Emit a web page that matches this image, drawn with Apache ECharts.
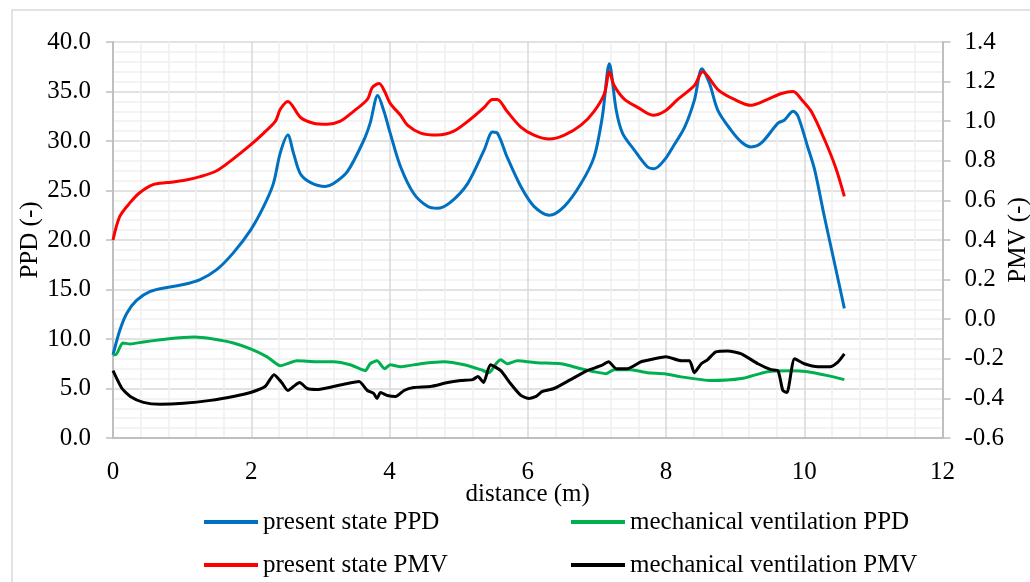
<!DOCTYPE html>
<html>
<head>
<meta charset="utf-8">
<script src="https://cdn.jsdelivr.net/npm/echarts@6/dist/echarts.min.js"></script>
<style>
  html, body { margin: 0; padding: 0; background: #ffffff; }
  #chart { width: 1030px; height: 582px; }
</style>
</head>
<body>
<div id="chart"></div>
<script>
// Thermal comfort along the room: PPD (left axis) and PMV (right axis)
const seriesNames = [
  'present state PPD',
  'mechanical ventilation PPD',
  'present state PMV',
  'mechanical ventilation PMV'
];

// present state PPD (%)
const presentPPDx = [0, 0.1, 0.2, 0.34, 0.54, 0.78, 1.02, 1.26, 1.5, 1.74, 1.99, 2.18, 2.32, 2.42, 2.53, 2.61, 2.71, 2.86, 3.07, 3.19, 3.39, 3.63, 3.72, 3.83, 3.92, 4.01, 4.16, 4.35, 4.55, 4.69, 4.88, 5.13, 5.37, 5.49, 5.56, 5.7, 5.9, 6.09, 6.31, 6.53, 6.77, 6.96, 7.08, 7.18, 7.28, 7.37, 7.54, 7.73, 7.83, 7.98, 8.1, 8.27, 8.41, 8.52, 8.63, 8.75, 8.94, 9.09, 9.23, 9.38, 9.62, 9.71, 9.84, 9.91, 10.05, 10.15, 10.29, 10.44, 10.58];
const presentPPD = [8.4, 10.9, 12.6, 13.9, 14.8, 15.2, 15.5, 16.0, 17.0, 18.7, 21.0, 23.4, 25.7, 28.8, 30.6, 28.8, 26.7, 25.8, 25.4, 25.7, 26.9, 30.1, 31.8, 34.6, 33.0, 30.8, 27.4, 24.7, 23.4, 23.2, 23.8, 25.7, 29.1, 30.9, 30.8, 28.4, 25.4, 23.4, 22.5, 23.4, 25.7, 28.4, 32.5, 37.8, 33.1, 30.8, 29.1, 27.4, 27.2, 28.1, 29.4, 31.4, 34.1, 37.3, 35.8, 33.1, 31.1, 29.9, 29.4, 29.8, 31.8, 32.1, 33.0, 32.5, 29.4, 27.1, 22.4, 17.6, 13.1];

// mechanical ventilation PPD (%)
const mechPPDx = [0, 0.04, 0.14, 0.25, 0.44, 0.78, 1.17, 1.45, 1.74, 1.99, 2.23, 2.42, 2.66, 2.95, 3.19, 3.43, 3.65, 3.72, 3.82, 3.93, 4.01, 4.16, 4.45, 4.79, 5.08, 5.32, 5.44, 5.54, 5.61, 5.7, 5.85, 6.14, 6.48, 6.77, 6.96, 7.13, 7.25, 7.49, 7.73, 7.98, 8.2, 8.65, 9.09, 9.47, 9.81, 10.05, 10.34, 10.58];
const mechPPD = [8.4, 8.4, 9.6, 9.5, 9.7, 10.0, 10.2, 10.0, 9.6, 9.0, 8.2, 7.3, 7.8, 7.7, 7.7, 7.4, 6.8, 7.5, 7.8, 7.0, 7.4, 7.2, 7.5, 7.7, 7.4, 6.9, 6.6, 7.5, 7.9, 7.5, 7.8, 7.6, 7.5, 7.0, 6.7, 6.5, 6.9, 6.9, 6.6, 6.5, 6.2, 5.8, 6.0, 6.7, 6.8, 6.7, 6.3, 5.9];

// present state PMV (-)
const presentPMVx = [0, 0.1, 0.25, 0.39, 0.58, 0.78, 1.02, 1.26, 1.5, 1.74, 1.99, 2.18, 2.35, 2.42, 2.53, 2.71, 2.9, 3.1, 3.29, 3.48, 3.68, 3.75, 3.85, 3.93, 4.01, 4.16, 4.26, 4.45, 4.69, 4.93, 5.17, 5.37, 5.49, 5.56, 5.7, 5.9, 6.09, 6.31, 6.53, 6.77, 6.96, 7.11, 7.18, 7.25, 7.4, 7.59, 7.81, 7.98, 8.17, 8.41, 8.53, 8.75, 8.99, 9.23, 9.47, 9.67, 9.84, 9.96, 10.1, 10.29, 10.46, 10.58];
const presentPMV = [0.40, 0.52, 0.59, 0.64, 0.68, 0.69, 0.70, 0.72, 0.75, 0.81, 0.88, 0.94, 1.00, 1.06, 1.10, 1.02, 0.99, 0.985, 1.00, 1.05, 1.11, 1.17, 1.19, 1.15, 1.09, 1.03, 0.98, 0.94, 0.93, 0.95, 1.01, 1.07, 1.11, 1.11, 1.05, 0.97, 0.93, 0.91, 0.93, 0.98, 1.05, 1.14, 1.25, 1.18, 1.11, 1.07, 1.03, 1.05, 1.11, 1.18, 1.25, 1.16, 1.11, 1.08, 1.11, 1.14, 1.15, 1.11, 1.05, 0.91, 0.76, 0.62];

// mechanical ventilation PMV (-)
const mechPMVx = [0, 0.13, 0.25, 0.44, 0.68, 1.02, 1.41, 1.74, 1.99, 2.2, 2.33, 2.44, 2.53, 2.61, 2.7, 2.81, 2.95, 3.19, 3.39, 3.56, 3.68, 3.77, 3.82, 3.87, 3.97, 4.09, 4.21, 4.35, 4.59, 4.84, 5.03, 5.2, 5.28, 5.36, 5.46, 5.61, 5.75, 5.9, 6.02, 6.12, 6.21, 6.38, 6.62, 6.86, 7.06, 7.17, 7.28, 7.44, 7.64, 7.83, 8.0, 8.22, 8.34, 8.41, 8.51, 8.6, 8.72, 8.89, 9.09, 9.33, 9.52, 9.62, 9.69, 9.75, 9.86, 10.0, 10.2, 10.37, 10.49, 10.58];
const mechPMV = [-0.26, -0.35, -0.39, -0.42, -0.43, -0.425, -0.41, -0.39, -0.37, -0.34, -0.28, -0.32, -0.36, -0.34, -0.32, -0.35, -0.355, -0.34, -0.325, -0.315, -0.36, -0.375, -0.40, -0.37, -0.385, -0.39, -0.36, -0.345, -0.34, -0.32, -0.31, -0.305, -0.29, -0.32, -0.23, -0.26, -0.325, -0.385, -0.40, -0.39, -0.365, -0.35, -0.305, -0.26, -0.235, -0.215, -0.25, -0.25, -0.215, -0.2, -0.19, -0.21, -0.21, -0.27, -0.225, -0.205, -0.165, -0.16, -0.175, -0.225, -0.255, -0.26, -0.36, -0.37, -0.2, -0.225, -0.24, -0.24, -0.215, -0.175];

// tick labels
const ppdTicks = { min: 0, max: 40, step: 5 };
const pmvTicks = { min: -0.6, max: 1.4, step: 0.2 };
const distTicks = { min: 0, max: 12, step: 2 };

const FONT = 'Liberation Serif';
const TEXT = '#000000';
const AXIS = '#bfbfbf';

function pairs(xs, ys) { return xs.map((x, i) => [x, ys[i]]); }

const chart = echarts.init(document.getElementById('chart'), null, { renderer: 'canvas' });

const legendSpots = [
  { name: seriesNames[0], left: 204, top: 509 },
  { name: seriesNames[1], left: 571, top: 509 },
  { name: seriesNames[2], left: 204, top: 552 },
  { name: seriesNames[3], left: 571, top: 552 }
];

chart.setOption({
  animation: false,
  backgroundColor: '#ffffff',
  graphic: [{
    type: 'rect',
    silent: true,
    shape: { x: 12, y: 10, width: 1100, height: 700 },
    style: { fill: 'none', stroke: '#d9d9d9', lineWidth: 1.5 },
    z: -1
  }],
  grid: { left: 113, right: 87.5, top: 42, bottom: 144, containLabel: false, outerBoundsMode: 'none' },
  legend: legendSpots.map(s => ({
    data: [s.name],
    left: s.left,
    top: s.top,
    padding: 0,
    icon: 'rect',
    itemWidth: 54,
    itemHeight: 4,
    selectedMode: false,
    textStyle: { fontFamily: FONT, fontSize: 25, color: TEXT, lineHeight: 26 }
  })),
  xAxis: {
    type: 'value',
    min: distTicks.min,
    max: distTicks.max,
    interval: distTicks.step,
    name: 'distance (m)',
    nameLocation: 'middle',
    nameGap: 44,
    nameMoveOverlap: false,
    nameTextStyle: { fontFamily: FONT, fontSize: 25, color: TEXT },
    axisLine: { show: true, onZero: false, lineStyle: { color: AXIS, width: 2 } },
    axisTick: { show: false },
    axisLabel: { margin: 22, fontFamily: FONT, fontSize: 25, color: TEXT },
    splitLine: { show: true, lineStyle: { color: '#d9d9d9', width: 1.5 } },
    minorTick: { show: false, splitNumber: 5 },
    minorSplitLine: { show: true, lineStyle: { color: '#f0f0f0', width: 1.5 } }
  },
  yAxis: [{
    type: 'value',
    position: 'left',
    min: ppdTicks.min,
    max: ppdTicks.max,
    interval: ppdTicks.step,
    name: 'PPD (-)',
    nameLocation: 'middle',
    nameRotate: 90,
    nameGap: 70,
    nameMoveOverlap: false,
    nameTextStyle: { fontFamily: FONT, fontSize: 25, color: TEXT },
    axisLine: { show: true, onZero: false, lineStyle: { color: AXIS, width: 2 } },
    axisTick: { show: true, length: 7, lineStyle: { color: AXIS, width: 1.5 } },
    axisLabel: { margin: 22, fontFamily: FONT, fontSize: 25, color: TEXT, formatter: v => v.toFixed(1) },
    splitLine: { show: true, lineStyle: { color: '#d9d9d9', width: 1.5 } },
    minorTick: { show: false, splitNumber: 5 },
    minorSplitLine: { show: true, lineStyle: { color: '#f0f0f0', width: 1.5 } }
  }, {
    type: 'value',
    position: 'right',
    min: pmvTicks.min,
    max: pmvTicks.max,
    interval: pmvTicks.step,
    name: 'PMV (-)',
    nameLocation: 'middle',
    nameRotate: 90,
    nameGap: 63,
    nameMoveOverlap: false,
    nameTextStyle: { fontFamily: FONT, fontSize: 25, color: TEXT },
    axisLine: { show: true, onZero: false, lineStyle: { color: AXIS, width: 2 } },
    axisTick: { show: true, length: 8, lineStyle: { color: AXIS, width: 1.5 } },
    axisLabel: { margin: 22, fontFamily: FONT, fontSize: 25, color: TEXT, formatter: v => (Math.round(v * 10) / 10).toFixed(1) },
    splitLine: { show: false }
  }],
  series: [
    {
      name: seriesNames[0], type: 'line', yAxisIndex: 0, showSymbol: false, symbol: 'none',
      smooth: 0.3, color: '#0070c0', lineStyle: { width: 3, color: '#0070c0' },
      data: pairs(presentPPDx, presentPPD)
    },
    {
      name: seriesNames[1], type: 'line', yAxisIndex: 0, showSymbol: false, symbol: 'none',
      smooth: 0.2, color: '#00b050', lineStyle: { width: 3, color: '#00b050' },
      data: pairs(mechPPDx, mechPPD)
    },
    {
      name: seriesNames[2], type: 'line', yAxisIndex: 1, showSymbol: false, symbol: 'none',
      smooth: 0.3, color: '#ff0000', lineStyle: { width: 3, color: '#ff0000' },
      data: pairs(presentPMVx, presentPMV)
    },
    {
      name: seriesNames[3], type: 'line', yAxisIndex: 1, showSymbol: false, symbol: 'none',
      smooth: 0.2, color: '#000000', lineStyle: { width: 3, color: '#000000' },
      data: pairs(mechPMVx, mechPMV)
    }
  ]
});
</script>
</body>
</html>
